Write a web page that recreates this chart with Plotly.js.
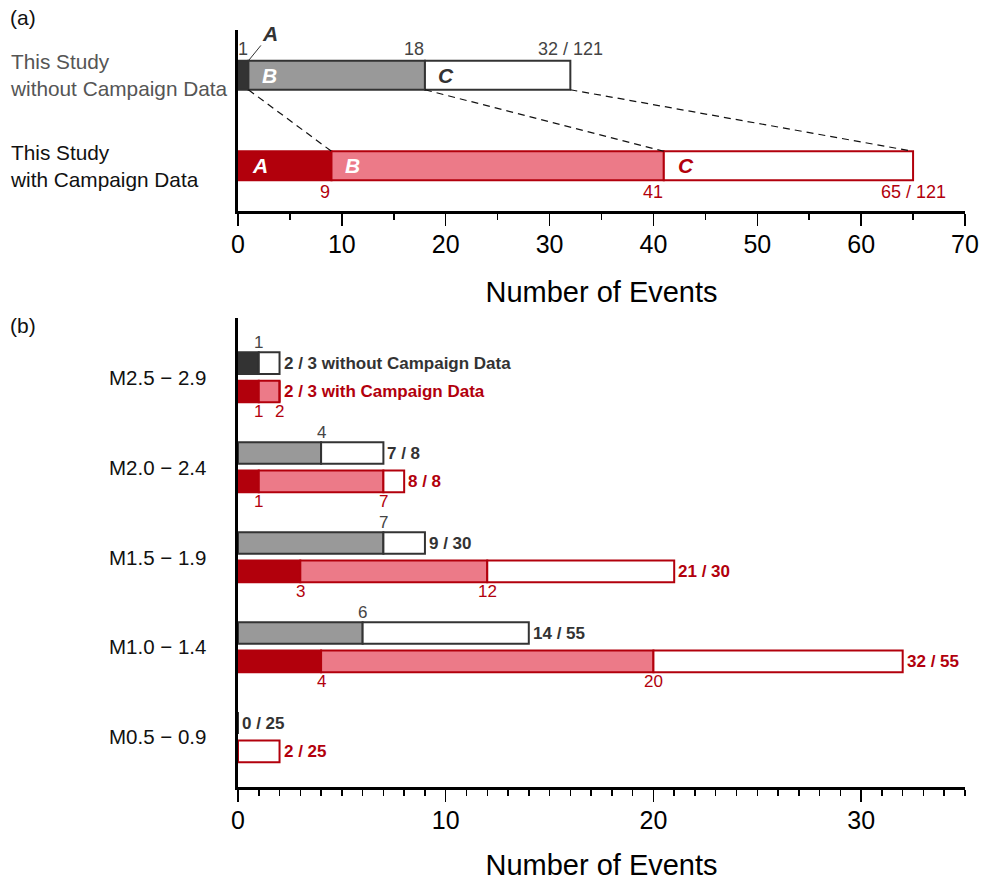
<!DOCTYPE html>
<html>
<head>
<meta charset="utf-8">
<script src="https://cdn.plot.ly/plotly-3.0.1.min.js"></script>
<style>
  html, body { margin: 0; padding: 0; background: #fff; }
  #chart { width: 982px; height: 881px; }
</style>
</head>
<body>
<div id="chart"></div>
<script>
// ---- (a) event totals for the whole catalogue ----
const studyRows = ['without', 'with'];
const studyLabels = ['This Study<br>without Campaign Data', 'This Study<br>with Campaign Data'];
const studyEndA = [1, 9];      // cumulative count at the end of class A
const studyEndB = [18, 41];    // cumulative count at the end of class B
const studyTotal = [32, 65];   // cumulative count at the end of class C
const studyEvents = 121;

// ---- (b) counts split by magnitude bin ----
const bins = ['M2.5 − 2.9', 'M2.0 − 2.4', 'M1.5 − 1.9', 'M1.0 − 1.4', 'M0.5 − 0.9'];
const binEvents = [3, 8, 30, 55, 25];
const woEndA = [1, 0, 0, 0, 0];
const woEndB = [1, 4, 7, 6, 0];
const woTotal = [2, 7, 9, 14, 0];
const wEndA = [1, 1, 3, 4, 0];
const wEndB = [2, 7, 12, 20, 0];
const wTotal = [2, 8, 21, 32, 2];

const DARK = '#333333', GREY = '#999999';
const RED = '#b2000c', PINK = '#ec7a88';
const NARROW = '"Liberation Sans Narrow", "Arial Narrow", "Liberation Sans", Arial, sans-serif';
const SANS = '"Liberation Sans", Arial, Helvetica, sans-serif';

const diff = (a, b) => a.map((v, i) => v - b[i]);

function seg(xs, bases, ys, fill, edge, xa, ya, offset, width) {
  return {
    type: 'bar', orientation: 'h', x: xs, base: bases, y: ys,
    xaxis: xa, yaxis: ya, offset: offset, width: width,
    marker: { color: fill, line: { color: edge, width: 2 } },
    hoverinfo: 'skip', showlegend: false
  };
}

const traces = [];
// (a) stacked classes A / B / C
traces.push(seg(studyEndA, [0, 0], studyRows, [DARK, RED], [DARK, RED], 'x', 'y', -0.16, 0.32));
traces.push(seg(diff(studyEndB, studyEndA), studyEndA, studyRows, [GREY, PINK], [DARK, RED], 'x', 'y', -0.16, 0.32));
traces.push(seg(diff(studyTotal, studyEndB), studyEndB, studyRows, ['#ffffff', '#ffffff'], [DARK, RED], 'x', 'y', -0.16, 0.32));

// (b) two bars per magnitude bin
const zeros = bins.map(() => 0);
const WO_OFF = -0.275, W_OFF = 0.04, BW = 0.24;
traces.push(seg(woEndA, zeros, bins, DARK, DARK, 'x2', 'y2', WO_OFF, BW));
traces.push(seg(diff(woEndB, woEndA), woEndA, bins, GREY, DARK, 'x2', 'y2', WO_OFF, BW));
traces.push(seg(diff(woTotal, woEndB), woEndB, bins, '#ffffff', DARK, 'x2', 'y2', WO_OFF, BW));
traces.push(seg(wEndA, zeros, bins, RED, RED, 'x2', 'y2', W_OFF, BW));
traces.push(seg(diff(wEndB, wEndA), wEndA, bins, PINK, RED, 'x2', 'y2', W_OFF, BW));
traces.push(seg(diff(wTotal, wEndB), wEndB, bins, '#ffffff', RED, 'x2', 'y2', W_OFF, BW));

const annotations = [];
const note = (o) => annotations.push(Object.assign({ showarrow: false, borderpad: 0 }, o));

// panel tags
note({ xref: 'paper', yref: 'paper', x: 0, xshift: -229, xanchor: 'left', y: 1, yshift: 13, yanchor: 'middle',
       text: '(a)', font: { family: SANS, size: 21, color: '#111' } });
note({ xref: 'paper', yref: 'paper', x: 0, xshift: -229, xanchor: 'left', y: (787 - 325) / 757, yanchor: 'middle',
       text: '(b)', font: { family: SANS, size: 21, color: '#111' } });

// (a) row labels
studyRows.forEach((r, i) => note({
  xref: 'paper', yref: 'y', x: 0, xshift: -229, xanchor: 'left', y: i, yanchor: 'middle', align: 'left',
  text: studyLabels[i], font: { family: SANS, size: 20.8, color: i === 0 ? '#555' : '#111' }
}));

// (a) class letters and counts
const aTop = -0.16, aBot = 0.16;
annotations.push({ xref: 'x', yref: 'y', x: studyEndA[0], y: aTop, ax: 22, ay: -27, showarrow: true,
  arrowhead: 0, arrowwidth: 1, arrowcolor: DARK, standoff: 0,
  text: '<b><i>A</i></b>', font: { family: SANS, size: 21, color: DARK } });
note({ xref: 'x', yref: 'y', x: studyEndA[0], y: 0 + aTop, xanchor: 'right', yanchor: 'bottom', xshift: 1, yshift: 1,
       text: String(studyEndA[0]), font: { family: SANS, size: 18, color: '#444' } });
note({ xref: 'x', yref: 'y', x: studyEndB[0], y: 0 + aTop, xanchor: 'right', yanchor: 'bottom', yshift: 1,
       text: String(studyEndB[0]), font: { family: SANS, size: 18, color: '#444' } });
note({ xref: 'x', yref: 'y', x: studyTotal[0], y: 0 + aTop, xanchor: 'center', yanchor: 'bottom', yshift: 1,
       text: studyTotal[0] + ' / ' + studyEvents, font: { family: SANS, size: 18, color: '#444' } });
note({ xref: 'x', yref: 'y', x: studyEndA[0], y: 0, xanchor: 'left', xshift: 13, yanchor: 'middle',
       text: '<b><i>B</i></b>', font: { family: SANS, size: 21, color: '#fff' } });
note({ xref: 'x', yref: 'y', x: studyEndB[0], y: 0, xanchor: 'left', xshift: 12, yanchor: 'middle',
       text: '<b><i>C</i></b>', font: { family: SANS, size: 21, color: DARK } });

note({ xref: 'x', yref: 'y', x: 0, y: 1, xanchor: 'left', xshift: 13, yanchor: 'middle',
       text: '<b><i>A</i></b>', font: { family: SANS, size: 21, color: '#fff' } });
note({ xref: 'x', yref: 'y', x: studyEndA[1], y: 1, xanchor: 'left', xshift: 13, yanchor: 'middle',
       text: '<b><i>B</i></b>', font: { family: SANS, size: 21, color: '#fff' } });
note({ xref: 'x', yref: 'y', x: studyEndB[1], y: 1, xanchor: 'left', xshift: 13, yanchor: 'middle',
       text: '<b><i>C</i></b>', font: { family: SANS, size: 21, color: RED } });
note({ xref: 'x', yref: 'y', x: studyEndA[1], y: 1 + aBot, xanchor: 'right', yanchor: 'top', yshift: -1,
       text: String(studyEndA[1]), font: { family: SANS, size: 18, color: RED } });
note({ xref: 'x', yref: 'y', x: studyEndB[1], y: 1 + aBot, xanchor: 'right', yanchor: 'top', yshift: -1,
       text: String(studyEndB[1]), font: { family: SANS, size: 18, color: RED } });
note({ xref: 'x', yref: 'y', x: studyTotal[1], y: 1 + aBot, xanchor: 'center', yanchor: 'top', yshift: -1,
       text: studyTotal[1] + ' / ' + studyEvents, font: { family: SANS, size: 18, color: RED } });

// (b) bin labels and counts
bins.forEach((b, i) => {
  note({ xref: 'paper', yref: 'y2', x: 0, xshift: -31, xanchor: 'right', y: i, yanchor: 'middle',
         text: b, font: { family: SANS, size: 20.5, color: '#111' } });
  if (woEndB[i] > 0) {
    note({ xref: 'x2', yref: 'y2', x: woEndB[i], y: i + WO_OFF, xanchor: 'center', yanchor: 'bottom', yshift: -1,
           text: String(woEndB[i]), font: { family: SANS, size: 17, color: '#444' } });
  }
  [wEndA[i], wEndB[i]].forEach(v => {
    if (v > 0) note({ xref: 'x2', yref: 'y2', x: v, y: i + W_OFF + BW, xanchor: 'center', yanchor: 'top', yshift: 1,
                      text: String(v), font: { family: SANS, size: 17, color: RED } });
  });
  note({ xref: 'x2', yref: 'y2', x: woTotal[i], xshift: 3, y: i + WO_OFF + BW / 2, xanchor: 'left', yanchor: 'middle',
         text: '<b>' + woTotal[i] + ' / ' + binEvents[i] + (i === 0 ? ' without Campaign Data' : '') + '</b>',
         font: { family: SANS, size: 17, color: DARK } });
  note({ xref: 'x2', yref: 'y2', x: wTotal[i], xshift: 3, y: i + W_OFF + BW / 2, xanchor: 'left', yanchor: 'middle',
         text: '<b>' + wTotal[i] + ' / ' + binEvents[i] + (i === 0 ? ' with Campaign Data' : '') + '</b>',
         font: { family: SANS, size: 17, color: RED } });
});

// dashed guides from each class boundary to its counterpart
const shapes = [studyEndA, studyEndB, studyTotal].map(arr => ({
  type: 'line', xref: 'x', yref: 'y', x0: arr[0], y0: 0 + aBot, x1: arr[1], y1: 1 + aTop,
  line: { color: '#111', width: 1.2, dash: '7px,5px' }
}));

function xAxis(range, minorStep, anchor, standoff) {
  return {
    anchor: anchor, domain: [0, 1], range: range, dtick: 10, tick0: 0,
    ticks: 'outside', ticklen: 12, tickwidth: 1.5, tickcolor: '#000',
    showline: true, linewidth: 2.5, linecolor: '#000', mirror: false,
    showgrid: false, zeroline: false, automargin: false, fixedrange: true,
    ticklabelstandoff: -3,
    tickfont: { family: NARROW, size: 25, color: '#000' },
    minor: { dtick: minorStep, tick0: 0, ticks: 'outside', ticklen: 6, tickwidth: 1.5, tickcolor: '#000', showgrid: false },
    title: { text: 'Number of Events', font: { family: NARROW, size: 29, color: '#000' }, standoff: standoff }
  };
}
function yAxis(domain, cats, range, anchor) {
  return {
    anchor: anchor, domain: domain, type: 'category', categoryorder: 'array', categoryarray: cats,
    range: range, showline: true, linewidth: 3, linecolor: '#000',
    showticklabels: false, ticks: '', showgrid: false, zeroline: false, automargin: false, fixedrange: true
  };
}

const layout = {
  width: 982, height: 881,
  margin: { l: 238, r: 17, t: 30, b: 94, pad: 0 },
  paper_bgcolor: '#fff', plot_bgcolor: '#fff',
  barmode: 'overlay', showlegend: false,
  xaxis: xAxis([0, 70], 5, 'y', 25),
  yaxis: yAxis([(787 - 211) / 757, 1], studyRows, [1.5, -0.5], 'x'),
  xaxis2: xAxis([0, 35], 1, 'y2', 24),
  yaxis2: yAxis([0, (787 - 318) / 757], bins, [4.556, -0.656], 'x2'),
  annotations: annotations,
  shapes: shapes
};

Plotly.newPlot('chart', traces, layout, { displayModeBar: false, staticPlot: true });
</script>
</body>
</html>
